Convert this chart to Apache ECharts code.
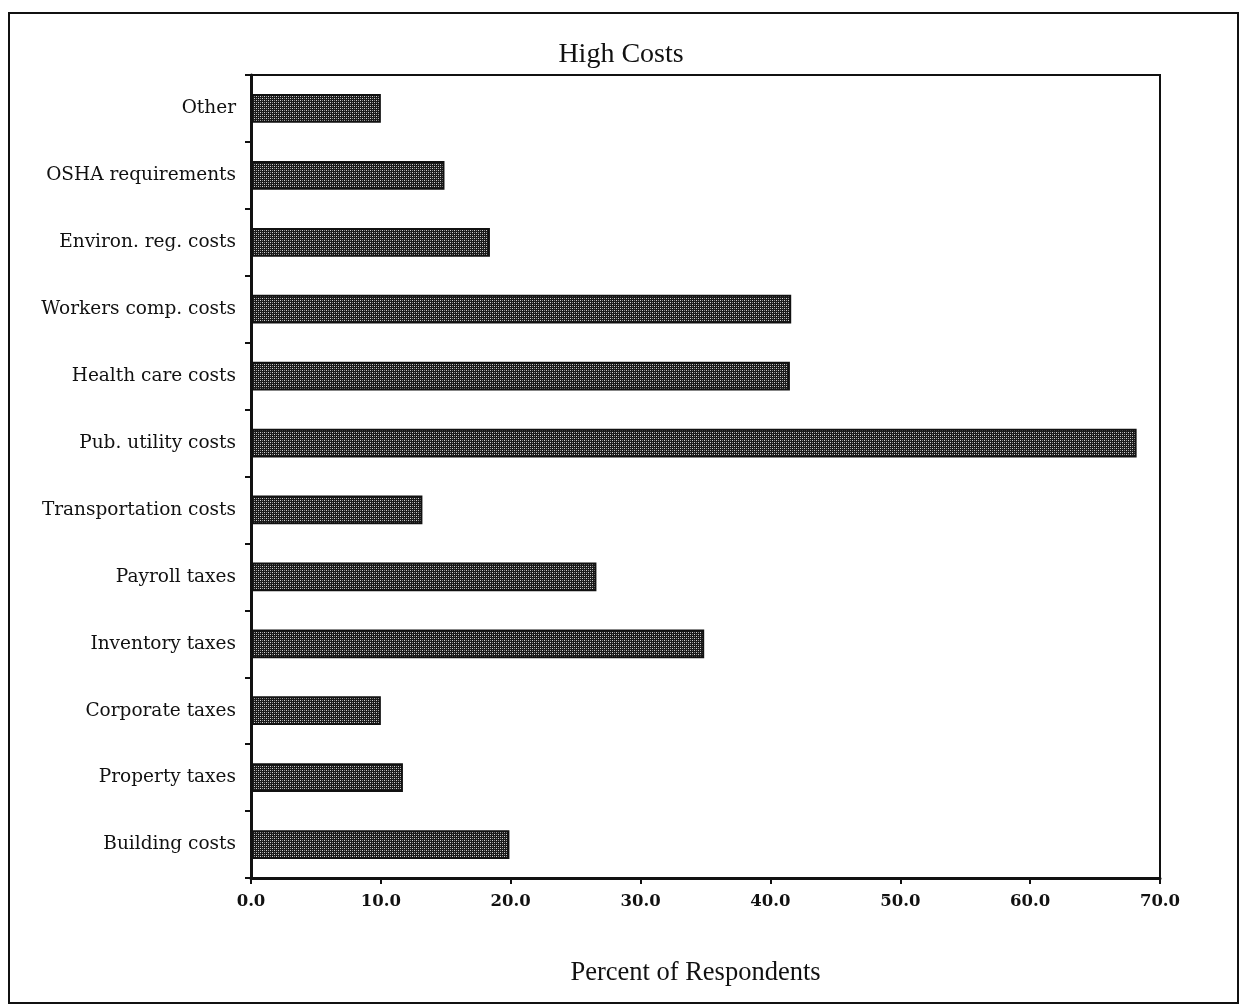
<!DOCTYPE html>
<html>
<head>
<meta charset="utf-8">
<script src="https://cdn.jsdelivr.net/npm/echarts@6/dist/echarts.min.js"></script>
<style>
  html, body { margin: 0; padding: 0; background: #fff; }
  #frame { position: absolute; left: 8px; top: 12px; width: 1231px; height: 992px; border: 2px solid #111; box-sizing: border-box; }
  #chart { position: absolute; left: 0; top: 0; width: 1242px; height: 1006px; }
</style>
</head>
<body>
<div id="frame"></div>
<div id="chart"></div>
<script>
// Cost categories, listed bottom to top
const categories = [
  'Building costs', 'Property taxes', 'Corporate taxes', 'Inventory taxes',
  'Payroll taxes', 'Transportation costs', 'Pub. utility costs', 'Health care costs',
  'Workers comp. costs', 'Environ. reg. costs', 'OSHA requirements', 'Other'
];
// Percent of respondents citing each cost as high
const percents = [19.9, 11.7, 10.0, 34.9, 26.6, 13.2, 68.2, 41.5, 41.6, 18.4, 14.9, 10.0];
// Value axis range
const axisMin = 0;
const axisMax = 70;
const axisStep = 10;

// Dotted halftone fill for bars
function makeHatch() {
  const c = document.createElement('canvas');
  c.width = 4; c.height = 4;
  const g = c.getContext('2d');
  g.fillStyle = '#1a1a1a';
  g.fillRect(0, 0, 4, 4);
  g.fillStyle = '#d0d0d0';
  g.fillRect(0, 0, 1, 1);
  g.fillRect(2, 2, 1, 1);
  g.fillStyle = '#8a8a8a';
  g.fillRect(2, 0, 1, 1);
  g.fillRect(0, 2, 1, 1);
  return c;
}

const serif = '"Liberation Serif", "DejaVu Serif", serif';
const wideSerif = '"DejaVu Serif", "Liberation Serif", serif';
const chart = echarts.init(document.getElementById('chart'), null, { renderer: 'canvas' });
chart.setOption({
  animation: false,
  backgroundColor: 'transparent',
  title: {
    text: 'High Costs',
    left: 616, top: 36, textAlign: 'center',
    textStyle: { fontFamily: serif, fontSize: 28, fontWeight: 'normal', color: '#111' }
  },
  grid: {
    left: 251, right: 82, top: 75, bottom: 128,
    show: true, borderColor: '#111', borderWidth: 2, containLabel: false
  },
  xAxis: {
    type: 'value', min: axisMin, max: axisMax, interval: axisStep,
    name: 'Percent of Respondents', nameLocation: 'middle', nameGap: 82,
    nameTextStyle: { fontFamily: serif, fontSize: 26.5, color: '#111', padding: [0, 20, 0, 0] },
    axisLine: { show: true, lineStyle: { color: '#111', width: 3 } },
    axisTick: { show: true, length: 6, inside: false, lineStyle: { color: '#111', width: 2 } },
    splitLine: { show: false },
    axisLabel: {
      fontFamily: wideSerif, fontSize: 16.5, fontWeight: 'bold', color: '#111', margin: 15,
      formatter: v => v.toFixed(1)
    }
  },
  yAxis: {
    type: 'category', data: categories,
    axisLine: { show: true, lineStyle: { color: '#111', width: 3 } },
    axisTick: { show: true, length: 6, lineStyle: { color: '#111', width: 2 } },
    axisLabel: {
      fontFamily: wideSerif, fontSize: 18.5, color: '#111', margin: 15,
      fontWeight: 'normal'
    }
  },
  series: [{
    type: 'bar',
    data: percents,
    barWidth: '43%',
    itemStyle: {
      color: { image: makeHatch(), repeat: 'repeat' },
      borderColor: '#111', borderWidth: 2
    }
  }]
});
</script>
</body>
</html>
